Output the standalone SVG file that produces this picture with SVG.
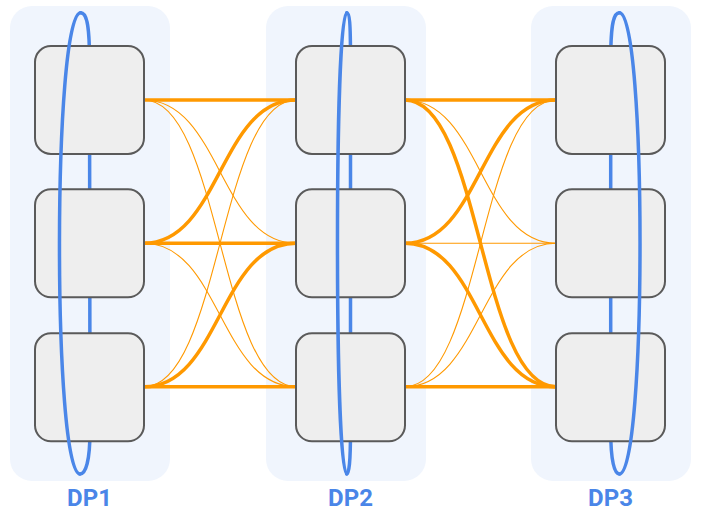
<svg xmlns="http://www.w3.org/2000/svg" width="705" height="516" viewBox="0 0 705 516">
<style>
.bg{fill:#F0F5FD;stroke:none}
.node{fill:#EEEEEE;stroke:#5A5A5A;stroke-width:2}
.ring{fill:none;stroke:#4A86E8;stroke-width:3.5;stroke-linecap:round}
.thick{fill:none;stroke:#FF9900;stroke-width:3.5}
.thin{fill:none;stroke:#FF9900;stroke-width:1.1}
.lbl{font-family:Roboto,"Liberation Sans",sans-serif;font-weight:bold;font-size:24px;fill:#4A86E8;text-anchor:middle}
</style>
<g id="groups">
<rect id="bg-dp1" class="bg" x="10" y="6" width="160" height="475" rx="22"/>
<rect id="bg-dp2" class="bg" x="266" y="6" width="160" height="475" rx="22"/>
<rect id="bg-dp3" class="bg" x="531" y="6" width="160" height="475" rx="22"/>
</g>
<g id="connectors">
<path class="thin" d="M144 100 C220 100 220 243.3 296 243.3"/>
<path class="thin" d="M144 100 C220 100 220 386.7 296 386.7"/>
<path class="thin" d="M144 243.3 C220 243.3 220 386.7 296 386.7"/>
<path class="thin" d="M144 386.7 C220 386.7 220 100 296 100"/>
<path class="thick" d="M144 100 L296 100"/>
<path class="thick" d="M144 243.3 C220 243.3 220 100 296 100"/>
<path class="thick" d="M144 243.3 L296 243.3"/>
<path class="thick" d="M144 386.7 C220 386.7 220 243.3 296 243.3"/>
<path class="thick" d="M144 386.7 L296 386.7"/>
<path class="thin" d="M405 100 C480.5 100 480.5 243.3 556 243.3"/>
<path class="thin" d="M405 243.3 L556 243.3"/>
<path class="thin" d="M405 386.7 C480.5 386.7 480.5 100 556 100"/>
<path class="thin" d="M405 386.7 C480.5 386.7 480.5 243.3 556 243.3"/>
<path class="thick" d="M405 100 L556 100"/>
<path class="thick" d="M405 100 C480.5 100 480.5 386.7 556 386.7"/>
<path class="thick" d="M405 243.3 C480.5 243.3 480.5 100 556 100"/>
<path class="thick" d="M405 243.3 C480.5 243.3 480.5 386.7 556 386.7"/>
<path class="thick" d="M405 386.7 L556 386.7"/>
</g>
<g id="rings-back">
<path class="ring" d="M80.7 12.7 C86 12.7 89.5 22 89.5 60 L90 430 C90 462 85.5 474 80 474"/>
<path class="ring" d="M346.7 12.7 C349.5 12.7 350.5 22 350.5 60 L350.5 430 C350.5 462 349 474 346.7 474"/>
<path class="ring" d="M619.4 12.7 C614 12.7 610.7 22 610.7 60 L610.7 430 C610.7 462 614.5 474 619.4 474"/>
</g>
<g id="dp1-n1"><rect class="node" x="35" y="46" width="109" height="108" rx="16"/></g>
<g id="dp1-n2"><rect class="node" x="35" y="189.3" width="109" height="108" rx="16"/></g>
<g id="dp1-n3"><rect class="node" x="35" y="333.3" width="109" height="108" rx="16"/></g>
<g id="dp2-n1"><rect class="node" x="296" y="46" width="109" height="108" rx="16"/></g>
<g id="dp2-n2"><rect class="node" x="296" y="189.3" width="109" height="108" rx="16"/></g>
<g id="dp2-n3"><rect class="node" x="296" y="333.3" width="109" height="108" rx="16"/></g>
<g id="dp3-n1"><rect class="node" x="556" y="46" width="109" height="108" rx="16"/></g>
<g id="dp3-n2"><rect class="node" x="556" y="189.3" width="109" height="108" rx="16"/></g>
<g id="dp3-n3"><rect class="node" x="556" y="333.3" width="109" height="108" rx="16"/></g>
<g id="rings-front">
<path class="ring" d="M80.7 12.7 C52.5 12.7 52.5 474 80 474"/>
<path class="ring" d="M346.7 12.7 C334.4 12.7 334.4 474 346.7 474"/>
<path class="ring" d="M619.4 12.7 C646.9 12.7 646.9 474 619.4 474"/>
</g>
<g id="labels">
<text id="lbl-dp1" class="lbl" x="89.5" y="505.5">DP1</text>
<text id="lbl-dp2" class="lbl" x="350.5" y="505.5">DP2</text>
<text id="lbl-dp3" class="lbl" x="610.5" y="505.5">DP3</text>
</g>
</svg>
